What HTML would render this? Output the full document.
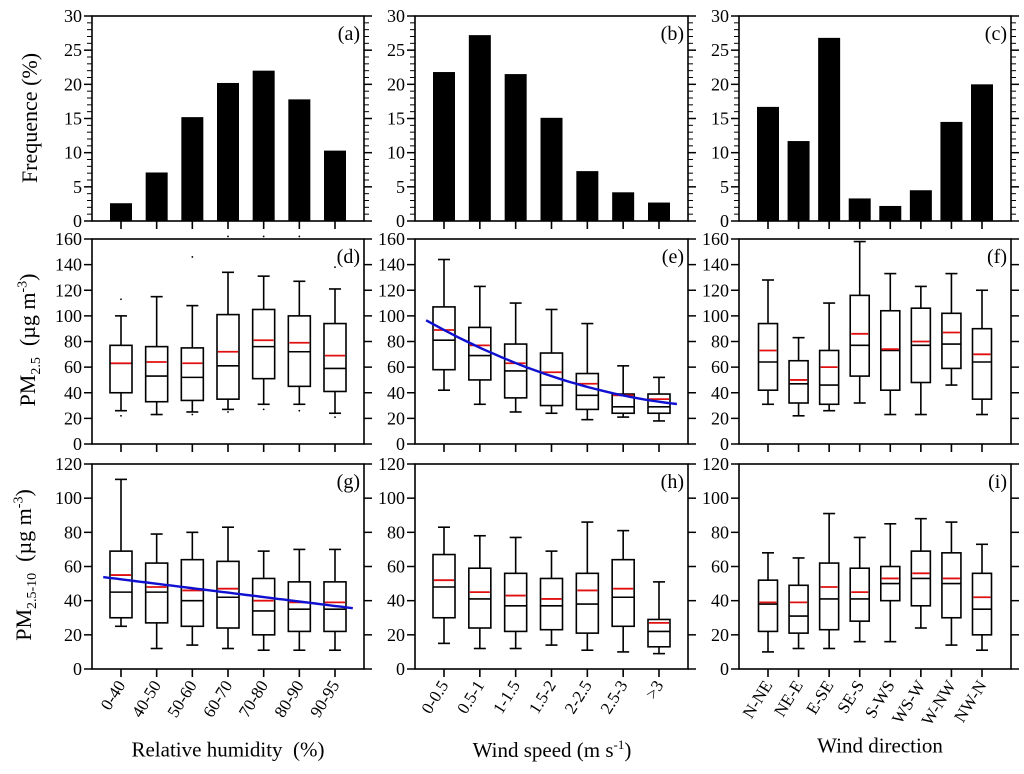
<!DOCTYPE html>
<html><head><meta charset="utf-8"><style>
body{margin:0;background:#fff;font-family:"Liberation Serif",serif}
svg{display:block;font-family:"Liberation Serif",serif}
.ttl{position:absolute;white-space:nowrap;font-family:"Liberation Serif",serif}
</style></head><body>
<svg id="fig" width="1024" height="774" viewBox="0 0 1024 774" xmlns="http://www.w3.org/2000/svg"></svg>
<script>
const rhCats=["0-40","40-50","50-60","60-70","70-80","80-90","90-95"];
const wsCats=["0-0.5","0.5-1","1-1.5","1.5-2","2-2.5","2.5-3",">3"];
const wdCats=["N-NE","NE-E","E-SE","SE-S","S-WS","WS-W","W-NW","NW-N"];
const freqA=[2.6,7.1,15.2,20.2,22.0,17.8,10.3];
const freqB=[21.8,27.2,21.5,15.1,7.3,4.2,2.7];
const freqC=[16.7,11.7,26.8,3.3,2.2,4.5,14.5,20.0];
// box data: [whiskerHigh, q3, mean, median, q1, whiskerLow]
const boxD=[[100,77,63,63,40,26],[115,76,64,53,33,23],[108,75,63,52,34,25],[134,101,72,61,35,27],[131,105,81,76,51,31],[127,100,79,72,45,31],[121,94,69,59,41,24]];
const outD=[[113,22],[23],[146,23],[162,25],[162,27],[162,26],[138,21]];
const boxE=[[144,107,89,81,58,42],[123,91,77,69,50,31],[110,78,63,57,36,25],[105,71,56,46,30,24],[94,55,47,38,27,19],[61,39,38,29,24,21],[52,39,35,29,24,18]];
const boxF=[[128,94,73,64,42,31],[83,65,50,47,32,22],[110,73,60,46,31,26],[158,116,86,77,53,32],[133,104,74,73,42,23],[123,106,80,77,48,23],[133,102,87,78,59,46],[120,90,70,64,35,23]];
const boxG=[[111,69,55,45,30,25],[79,62,48,45,27,12],[80,64,46,40,25,14],[83,63,47,42,24,12],[69,53,40,34,20,11],[70,51,39,35,22,11],[70,51,39,35,22,11]];
const boxH=[[83,67,52,48,30,15],[78,59,45,41,24,12],[77,56,43,37,22,12],[69,53,41,37,23,14],[86,56,46,38,21,11],[81,64,47,42,25,10],[51,29,27,22,13,9]];
const boxI=[[68,52,39,38,22,10],[65,49,39,31,21,12],[91,62,48,41,23,12],[77,59,45,41,28,16],[85,60,53,50,40,16],[88,69,56,53,37,24],[86,68,53,50,30,14],[73,56,42,35,20,11]];
// regression fit coefficients (value = c0 + c1*i + c2*i^2, i = category index)
const fitE=[89,-14.67,0.889];
const fitG=[52.5,-2.6,0];
const freqTicks=[0,5,10,15,20,25,30];
const pm25Ticks=[0,20,40,60,80,100,120,140,160];
const pm10Ticks=[0,20,40,60,80,100,120];

const NS="http://www.w3.org/2000/svg";
const svg=document.getElementById('fig');
function el(tag,attrs,parent){const e=document.createElementNS(NS,tag);for(const k in attrs)e.setAttribute(k,attrs[k]);(parent||svg).appendChild(e);return e;}
const cols=[[92,364],[415,688],[739,1011]];
const rows=[[16,221,30],[239,444,160],[464,669,120]];

function panel(ci,ri,n,label,name){
  const [x0,x1]=cols[ci],[y0,y1,ymax]=rows[ri];
  const g=el('g',{});
  
  
  const pad=29, step=(x1-x0-2*pad)/(n-1);
  const X=i=>x0+pad+i*step;
  const Y=v=>y1-(v/ymax)*(y1-y0);
  const fr=el('rect',{x:x0,y:y0,width:x1-x0,height:y1-y0,fill:'none',stroke:'#000','stroke-width':1.6},g);
  
  
  const t=el('text',{x:x1-4,y:y0+24,'text-anchor':'end','font-size':20},g);
  t.textContent=label;
  
  
  for(let i=0;i<n;i++) el('line',{x1:X(i),x2:X(i),y1:y1,y2:y1+8,stroke:'#000','stroke-width':1.6},g);
  return {g,X,Y,x0,x1,y0,y1,ymax,step};
}
function yAxis(p,ticks,minor){
  const ax=el('g',{},p.g);
  
  
  ticks.forEach(v=>{
    const y=p.Y(v);
    el('line',{x1:p.x0-8,x2:p.x0,y1:y,y2:y,stroke:'#000','stroke-width':1.5},ax);
    el('line',{x1:p.x1,x2:p.x1+8,y1:y,y2:y,stroke:'#000','stroke-width':1.5},ax);
    const t=el('text',{x:p.x0-10,y:y+6,'text-anchor':'end','font-size':18},ax);
    t.textContent=v;
    
    
  });
  if(minor){for(let v=0;v<=p.ymax;v++){if(v%5===0)continue;const y=p.Y(v);
    el('line',{x1:p.x0-5,x2:p.x0,y1:y,y2:y,stroke:'#000','stroke-width':1},ax);
    el('line',{x1:p.x1,x2:p.x1+5,y1:y,y2:y,stroke:'#000','stroke-width':1},ax);}}
}
function bars(p,vals){
  vals.forEach((v,i)=>{
    const b=el('rect',{x:p.X(i)-11,y:p.Y(v),width:22,height:p.Y(0)-p.Y(v),fill:'#000'},p.g);
    
    
  });
}
function boxes(p,data,outs){
  const w=data.length>7?19:22;
  data.forEach((d,i)=>{
    const [hi,q3,mn,md,q1,lo]=d;const x=p.X(i);
    const bg=el('g',{stroke:'#000','stroke-width':1.6,fill:'none'},p.g);
    
    
    el('line',{x1:x,x2:x,y1:p.Y(hi),y2:p.Y(q3)},bg);
    el('line',{x1:x,x2:x,y1:p.Y(q1),y2:p.Y(lo)},bg);
    el('line',{x1:x-6,x2:x+6,y1:p.Y(hi),y2:p.Y(hi)},bg);
    el('line',{x1:x-6,x2:x+6,y1:p.Y(lo),y2:p.Y(lo)},bg);
    el('rect',{x:x-w/2,y:p.Y(q3),width:w,height:p.Y(q1)-p.Y(q3)},bg);
    el('line',{x1:x-w/2,x2:x+w/2,y1:p.Y(md),y2:p.Y(md)},bg);
    el('line',{x1:x-w/2+1,x2:x+w/2-1,y1:p.Y(mn),y2:p.Y(mn),stroke:'#e01010','stroke-width':1.8},bg);
    if(outs) outs[i].forEach(o=>el('circle',{cx:x,cy:p.Y(o),r:0.9,fill:'#000',stroke:'none'},bg));
  });
}
function fit(p,c,n){
  let d='';
  for(let k=0;k<=40;k++){const i=-0.5+k*(n)/40;const v=c[0]+c[1]*i+c[2]*i*i;d+=(k?'L':'M')+p.X(i).toFixed(1)+','+p.Y(v).toFixed(1);}
  const pa=el('path',{d:d,fill:'none',stroke:'#1010d0','stroke-width':2.4},p.g);
  
  
}
function xLabels(p,cats){
  cats.forEach((c,i)=>{
    const x=p.X(i)+5,y=685;
    const t=el('text',{x:x,y:y,'text-anchor':'end','font-size':17,transform:`rotate(-58 ${x} ${y})`},svg);
    t.textContent=c;
    
    
  });
}
const pa=panel(0,0,7,'(a)','panel-a');yAxis(pa,freqTicks,true);bars(pa,freqA);
const pb=panel(1,0,7,'(b)','panel-b');yAxis(pb,freqTicks,true);bars(pb,freqB);
const pc=panel(2,0,8,'(c)','panel-c');yAxis(pc,freqTicks,true);bars(pc,freqC);
const pd=panel(0,1,7,'(d)','panel-d');yAxis(pd,pm25Ticks);boxes(pd,boxD,outD);
const pe=panel(1,1,7,'(e)','panel-e');yAxis(pe,pm25Ticks);boxes(pe,boxE);fit(pe,fitE,7);
const pf=panel(2,1,8,'(f)','panel-f');yAxis(pf,pm25Ticks);boxes(pf,boxF);
const pg=panel(0,2,7,'(g)','panel-g');yAxis(pg,pm10Ticks);boxes(pg,boxG);fit(pg,fitG,7);
const ph=panel(1,2,7,'(h)','panel-h');yAxis(ph,pm10Ticks);boxes(ph,boxH);
const pi=panel(2,2,8,'(i)','panel-i');yAxis(pi,pm10Ticks);boxes(pi,boxI);
xLabels(pg,rhCats);xLabels(ph,wsCats);xLabels(pi,wdCats);
</script>
<div style="position:absolute;left:0;top:0;width:1024px;height:774px;pointer-events:none">
  <div class="ttl" style="left:30px;top:118px;transform:translate(-50%,-50%) rotate(-90deg);font-size:22px">Frequence (%)</div>
  <div class="ttl" style="left:30px;top:340px;transform:translate(-50%,-50%) rotate(-90deg);font-size:22px">PM<sub style="font-size:14px">2.5</sub>&nbsp;&nbsp;(µg m<sup style="font-size:14px">-3</sup>)</div>
  <div class="ttl" style="left:26px;top:565px;transform:translate(-50%,-50%) rotate(-90deg);font-size:22px">PM<sub style="font-size:14px">2.5-10</sub>&nbsp;&nbsp;(µg m<sup style="font-size:14px">-3</sup>)</div>
  <div class="ttl" style="left:228px;top:750px;transform:translate(-50%,-50%);font-size:21px">Relative humidity&nbsp;&nbsp;(%)</div>
  <div class="ttl" style="left:552px;top:750px;transform:translate(-50%,-50%);font-size:21px">Wind speed (m s<sup style="font-size:13px">-1</sup>)</div>
  <div class="ttl" style="left:880px;top:746px;transform:translate(-50%,-50%);font-size:21px">Wind direction</div>
</div>
</body></html>
